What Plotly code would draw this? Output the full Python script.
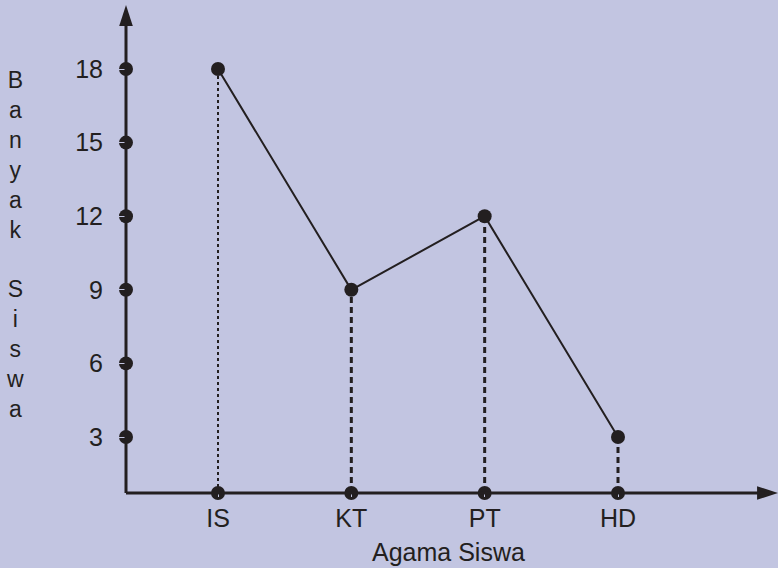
import plotly.graph_objects as go

categories = ["IS", "KT", "PT", "HD"]
values = [18, 9, 12, 3]
y_ticks = [3, 6, 9, 12, 15, 18]
x_title = "Agama Siswa"
y_title = "Banyak Siswa"

INK = "#231f20"
BG = "#c2c5e1"
FONT = "Liberation Sans, Arial, sans-serif"

xpos = list(range(len(categories)))
x_min, x_max = -0.69, 4.2
y_min, y_max = 0.717, 20.61

fig = go.Figure()

# drop lines
for i, (x, v) in enumerate(zip(xpos, values)):
    fig.add_trace(go.Scatter(
        x=[x, x], y=[y_min, v], mode="lines",
        line=dict(color=INK, width=2 if i == 0 else 3,
                  dash="dot" if i == 0 else "6px,4px"),
        hoverinfo="skip", showlegend=False, cliponaxis=False))

# main line
fig.add_trace(go.Scatter(
    x=xpos, y=values, mode="lines+markers",
    line=dict(color=INK, width=2),
    marker=dict(color=INK, size=14),
    showlegend=False, cliponaxis=False))

# axis lines
fig.add_shape(type="line", xref="paper", yref="paper", x0=0, x1=0, y0=0, y1=0.97,
              line=dict(color=INK, width=3))
fig.add_shape(type="line", xref="paper", yref="paper", x0=0, x1=0.98, y0=0, y1=0,
              line=dict(color=INK, width=3))

# axis dots
fig.add_trace(go.Scatter(
    x=[x_min] * len(y_ticks), y=y_ticks, mode="markers",
    marker=dict(color=INK, size=14), showlegend=False, cliponaxis=False,
    hoverinfo="skip"))
fig.add_trace(go.Scatter(
    x=xpos, y=[y_min] * len(xpos), mode="markers",
    marker=dict(color=INK, size=14), showlegend=False, cliponaxis=False,
    hoverinfo="skip"))

# arrow heads
fig.add_trace(go.Scatter(
    x=[x_min, x_max], y=[y_max, y_min], mode="markers",
    marker=dict(color=INK, size=22, symbol="arrow", angle=[0, 90],
                line=dict(width=0)),
    showlegend=False, cliponaxis=False, hoverinfo="skip"))

fig.add_annotation(xref="paper", yref="paper", x=(15 - 126) / 652, y=0.51,
                   text="<br>".join(list(y_title.replace(" ", "\u00a0"))),
                   showarrow=False, xanchor="center", yanchor="middle",
                   font=dict(family=FONT, size=23, color=INK), align="center")
fig.add_annotation(xref="paper", yref="paper", x=0.495, y=-0.12,
                   text=x_title, showarrow=False, xanchor="center", yanchor="middle",
                   font=dict(family=FONT, size=25, color=INK))

fig.update_layout(
    width=778, height=568,
    margin=dict(l=126, r=0, t=5, b=75),
    paper_bgcolor=BG, plot_bgcolor=BG,
    font=dict(family=FONT, size=25, color=INK),
    xaxis=dict(range=[x_min, x_max], tickvals=xpos, ticktext=categories,
               showgrid=False, zeroline=False, showline=False,
               ticks="outside", ticklen=3, tickcolor=BG,
               tickfont=dict(family=FONT, size=25, color=INK)),
    yaxis=dict(range=[y_min, y_max], tickvals=y_ticks,
               showgrid=False, zeroline=False, showline=False,
               ticks="outside", ticklen=17, tickcolor=BG,
               tickfont=dict(family=FONT, size=25, color=INK)),
)

fig.write_html("out.html", config={"displayModeBar": False},
               post_script="document.body.style.margin='0';")
